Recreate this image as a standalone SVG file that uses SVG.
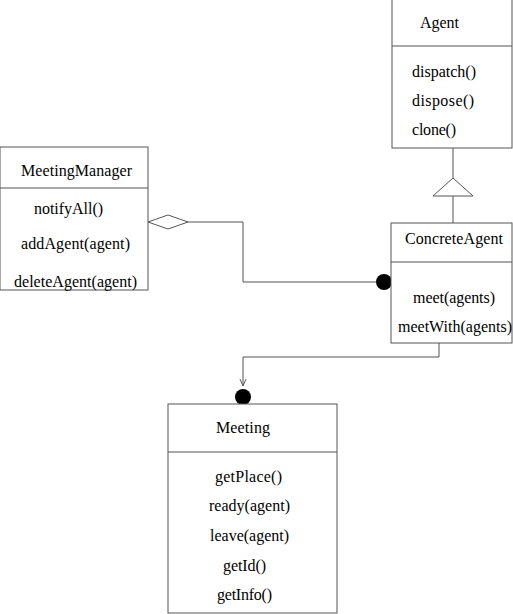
<svg xmlns="http://www.w3.org/2000/svg" width="513" height="614" viewBox="0 0 513 614">
<style>
.box{fill:#fff;stroke:#555;stroke-width:1}
.ln{fill:none;stroke:#555;stroke-width:1}
text{font-family:'Liberation Serif','DejaVu Serif',serif;font-size:16px;fill:#000}
</style>
<defs>
<marker id="open" markerWidth="10" markerHeight="10" refX="8" refY="5" orient="auto" markerUnits="userSpaceOnUse">
<path d="M1,2 L8,5 L1,8" fill="none" stroke="#555" stroke-width="1"/>
</marker>
</defs>
<rect width="513" height="614" fill="#fff"/>
<g id="connectors">
<path class="ln" d="M453,148 V178"/>
<polygon class="box" points="453,178 473,196 433,196"/>
<path class="ln" d="M453,196 V223"/>
<path class="ln" d="M188,222 H243 V282 H376"/>
<polygon class="box" points="148,222 168,215 188,222 168,229"/>
<circle cx="384" cy="282" r="8" fill="#000"/>
<path class="ln" d="M439,343 V357 H243 V386" marker-end="url(#open)"/>
<circle cx="243" cy="397" r="8" fill="#000"/>
</g>
<g id="Agent">
<rect class="box" x="392" y="-1" width="120" height="149"/>
<line class="ln" x1="392" y1="46" x2="512" y2="46"/>
<text x="420" y="28" textLength="39" lengthAdjust="spacing">Agent</text>
<text x="412" y="77" textLength="64" lengthAdjust="spacing">dispatch()</text>
<text x="412" y="106" textLength="62" lengthAdjust="spacing">dispose()</text>
<text x="412" y="135" textLength="44" lengthAdjust="spacing">clone()</text>
</g>
<g id="ConcreteAgent">
<rect class="box" x="391" y="223" width="121" height="120"/>
<line class="ln" x1="391" y1="262" x2="512" y2="262"/>
<text x="405" y="244" textLength="98" lengthAdjust="spacing">ConcreteAgent</text>
<text x="413" y="303" textLength="82" lengthAdjust="spacing">meet(agents)</text>
<text x="398" y="332" textLength="114" lengthAdjust="spacing">meetWith(agents)</text>
</g>
<g id="MeetingManager">
<rect class="box" x="0" y="147" width="148" height="143"/>
<line class="ln" x1="0" y1="188" x2="148" y2="188"/>
<text x="21" y="176" textLength="111" lengthAdjust="spacing">MeetingManager</text>
<text x="34" y="214" textLength="69" lengthAdjust="spacing">notifyAll()</text>
<text x="21" y="249" textLength="109" lengthAdjust="spacing">addAgent(agent)</text>
<text x="14" y="287" textLength="123" lengthAdjust="spacing">deleteAgent(agent)</text>
</g>
<g id="Meeting">
<rect class="box" x="168" y="404" width="169" height="209"/>
<line class="ln" x1="168" y1="452" x2="337" y2="452"/>
<text x="216" y="433" textLength="54" lengthAdjust="spacing">Meeting</text>
<text x="215" y="482" textLength="67" lengthAdjust="spacing">getPlace()</text>
<text x="209" y="511" textLength="81" lengthAdjust="spacing">ready(agent)</text>
<text x="210" y="541" textLength="79" lengthAdjust="spacing">leave(agent)</text>
<text x="223" y="571" textLength="43" lengthAdjust="spacing">getId()</text>
<text x="217" y="600" textLength="55" lengthAdjust="spacing">getInfo()</text>
</g>
</svg>
